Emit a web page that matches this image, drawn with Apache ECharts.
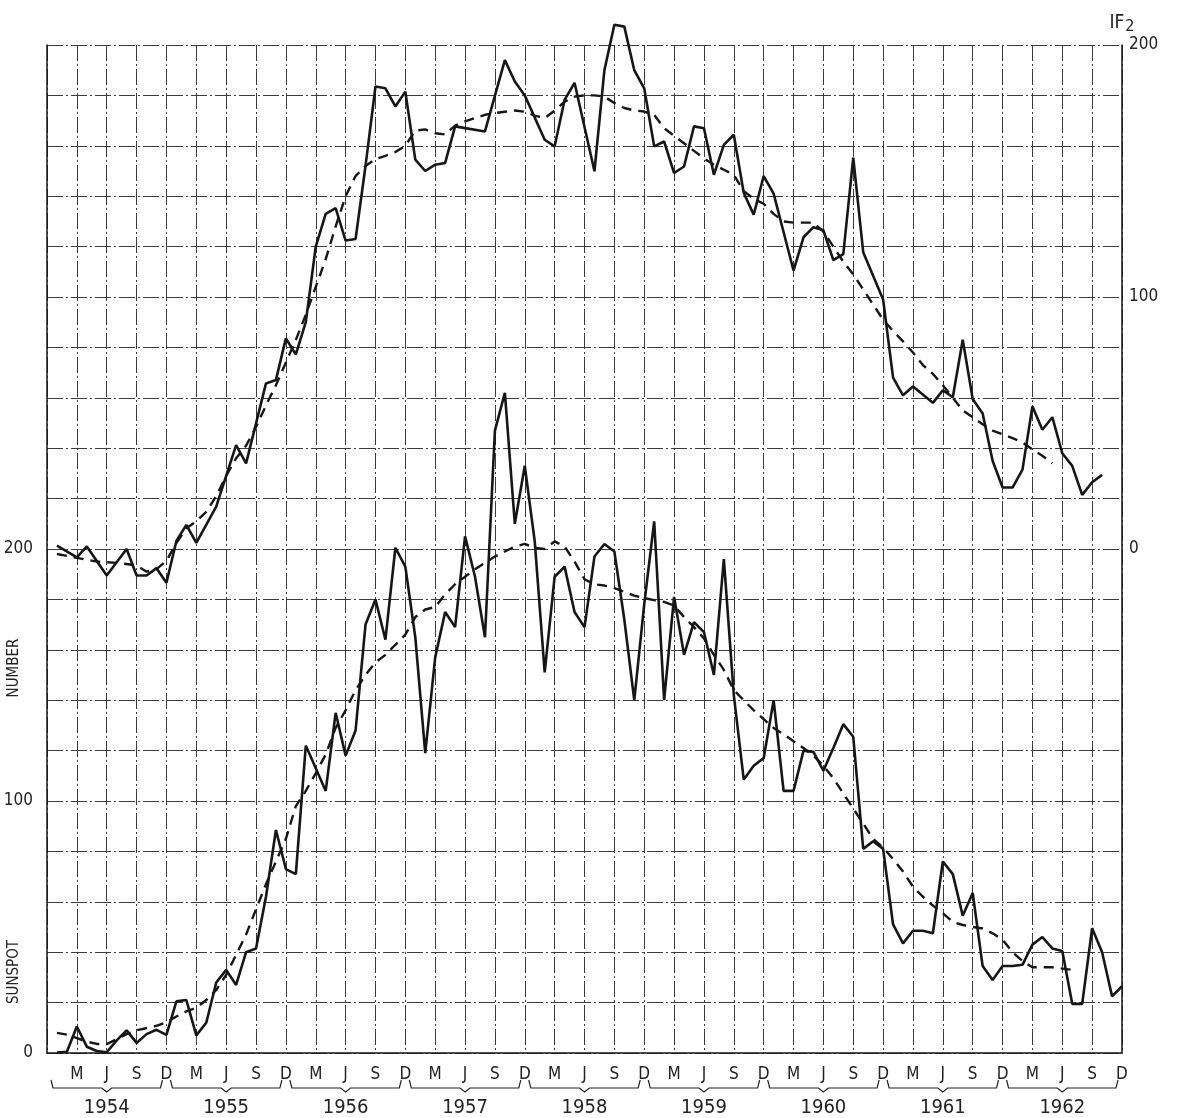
<!DOCTYPE html>
<html>
<head>
<meta charset="utf-8">
<script src="https://cdn.jsdelivr.net/npm/echarts@6/dist/echarts.min.js"></script>
<style>
html, body { margin: 0; background: #fff; }
#chart { width: 1184px; height: 1118px; }
</style>
</head>
<body>
<div id="chart"></div>
<script>
// months are counted from Jan 1954 (= 0)
var years = [1954, 1955, 1956, 1957, 1958, 1959, 1960, 1961, 1962];
var quarterLetters = { 2: 'M', 5: 'J', 8: 'S', 11: 'D' };

// monthly sunspot number, Jan 1954 .. Dec 1962
var sunspot = [
    0.2, 0.5, 10.5, 2.5, 0.8, 0.3, 5, 9, 4, 7.5, 9.2, 7.2,
    20.5, 21, 7, 12, 28, 33, 27, 40, 41.5, 62, 88.5, 73,
    71, 122, 113, 104, 135, 118, 128, 170, 180, 164, 200.5, 193,
    165, 119, 157, 175, 169, 205, 189, 165, 247, 262, 210, 233,
    203, 151, 189, 193, 175, 169, 197, 202, 199, 172, 140, 178,
    211, 140, 181, 158, 171, 167, 150, 196, 142, 108.5, 114, 117,
    140, 104, 104, 120, 119.5, 112, 121, 130.5, 125.5, 81, 84, 81,
    51, 43.5, 48.5, 48.5, 47.5, 76, 71, 54.5, 63.5, 34.5, 29, 34.5,
    34.5, 35, 43, 46, 41.5, 40.5, 19.5, 19.5, 49.5, 40, 22.5, 26.5
];

// smoothed sunspot number (dashed)
var sunspotSmoothMonths = [0, 1, 3, 4, 5, 6, 7, 8, 10, 11, 12, 13, 14, 15, 16, 17, 18, 19, 20, 21, 22, 23, 24, 25, 26, 27, 28, 29, 30,
    31, 32, 33, 34, 35, 36, 37, 38, 39, 40, 41, 42, 43, 44, 45, 46, 47, 48, 49, 50, 51, 52, 53, 54, 55, 56, 57, 58, 59, 60,
    61, 62, 63, 64, 65, 66, 67, 68, 69, 70, 71, 72, 73, 74, 75, 76, 77, 78, 79, 80, 81, 82, 83, 84, 85, 86, 87, 88, 89, 90,
    91, 92, 93, 94, 95, 96, 97, 98, 99, 100, 101, 102];
var sunspotSmooth = [8, 7.3, 4.5, 3.6, 3.5, 5.5, 7.5, 9, 10.8, 12.2, 14.5, 16.5, 18, 21, 25, 31, 39, 47, 57, 67, 76, 85, 98, 104, 111, 118.5, 129, 136, 144,
    150, 155, 158, 162, 166, 173, 176, 177, 182, 186, 189, 192, 194.5, 197, 199, 201, 202, 200.5, 200, 203, 201, 195, 188, 186, 185.5, 184.5, 183, 181.5, 180.5, 179.7,
    179, 177.5, 173, 169, 164.5, 158, 152, 144, 140, 136, 132.5, 129, 126.5, 123.7, 121, 118, 114, 109, 103, 97, 91, 85, 81.5, 77, 72, 66, 62, 58.5, 55.5, 52,
    50.8, 50, 49.4, 47.5, 45, 40, 36.5, 34, 34, 34, 33.5, 33];

// IF2 index (solid), read at its corners
var if2Months = [0, 2, 3, 5, 7, 8, 9, 10, 11, 12, 13, 14, 16, 18, 19, 21, 22, 23, 24, 25, 26, 27, 28, 29, 30, 31, 32, 33, 34, 35,
    36, 37, 38, 39, 40, 43, 45, 46, 47, 49, 50, 51, 52, 54, 55, 56, 57, 58, 59, 60, 61, 62, 63, 64, 65, 66, 67, 68, 69, 70, 71,
    72, 74, 75, 76, 77, 78, 79, 80, 81, 83, 84, 85, 86, 88, 89, 90, 91, 92, 93, 94, 95, 96, 97, 98, 99, 100, 101, 102, 103, 104, 105];
var if2 = [1.3, -3.3, 1, -10.5, 0, -10.5, -10.5, -7.6, -13.4, 3.2, 9.6, 2.4, 16.8, 41.2, 34, 65.7, 67.1, 83.6, 77.2, 90, 120, 133, 135.3, 122.4, 123, 152, 183.5, 182.8, 175.6, 181.5,
    154.5, 150, 152.5, 153.2, 167.7, 165.7, 194, 185.5, 180, 162.4, 159.8, 178.2, 185, 149.9, 190, 208, 207.3, 190, 182.8, 159.8, 161.7, 149.2, 151.8, 167.7, 167, 148.5, 160.4, 164.4, 141.3, 132.7, 148,
    141, 110.5, 123.7, 127.7, 126.5, 114.6, 117, 155.3, 117.8, 99, 68, 61, 64.5, 58, 63, 60.2, 83, 59.5, 53.8, 35, 24.4, 24.4, 31.5, 56.6, 47.3, 52.3, 38, 33, 21.5, 26.5, 29.4];

// smoothed IF2 (dashed)
var if2SmoothMonths = [0, 2, 4, 6, 8, 9, 10, 11, 12, 13, 14, 15, 16, 17, 18, 19, 20, 21, 22, 23, 24, 25, 26, 27, 28, 29, 30,
    31, 32, 33, 34, 35, 36, 37, 38, 39, 40, 41, 42, 43, 44, 45, 46, 47, 48, 49, 50, 51, 52, 53, 54, 55, 56, 57, 58, 59, 60,
    61, 62, 63, 64, 65, 66, 67, 68, 69, 70, 71, 72, 73, 74, 75, 76, 77, 78, 79, 80, 81, 82, 83, 84, 85, 86, 87, 88, 89, 90,
    91, 92, 93, 94, 95, 96, 97, 98, 99, 100];
var if2Smooth = [-2, -3.5, -5, -5.5, -6.5, -9, -8, -4.7, 2.4, 8.2, 11, 14.7, 21, 29, 36, 41, 48.4, 57, 65, 74, 83, 93, 104, 115, 128, 140, 148,
    152, 154.7, 156, 157.5, 160, 166, 166.5, 165, 164.5, 168, 169.7, 171, 172.3, 173, 173.5, 174, 173.5, 172, 171, 174, 177.5, 179.5, 180, 180, 179.5, 177, 175, 174, 173.6, 172.3,
    167, 164, 161, 158, 155, 152.5, 150.5, 148.5, 142, 139, 137, 133, 130, 129.5, 129.5, 129.5, 126, 120, 114, 109, 103, 97, 91, 86.5, 82.4, 78, 73, 69.5, 65, 60, 55,
    52.3, 49.5, 47, 45.5, 44, 42.3, 39.5, 37, 34, 31];

function pairs(xs, ys) {
    var out = [];
    for (var i = 0; i < xs.length; i++) {
        out.push([xs[i], ys[i]]);
    }
    return out;
}

var sunspotData = [];
for (var i = 0; i < sunspot.length; i++) {
    sunspotData.push([i, sunspot[i]]);
}

var font = '"DejaVu Sans Condensed", "DejaVu Sans", sans-serif';
var ink = '#161616';
var gridStyle = { color: '#3c3c3c', width: 1, type: [16, 3, 2, 3] };

var myChart = echarts.init(document.getElementById('chart'));
var option = {
    animation: false,
    backgroundColor: '#fff',
    grid: {
        left: 47,
        right: 62,
        top: 45,
        bottom: 65
    },
    xAxis: {
        type: 'value',
        min: -1,
        max: 107,
        interval: 3,
        axisLine: { onZero: false, lineStyle: { color: ink, width: 1.5 } },
        axisTick: { show: false },
        splitLine: { show: true, lineStyle: gridStyle },
        axisLabel: {
            margin: 13,
            fontSize: 17,
            color: '#222',
            fontFamily: font,
            showMinLabel: false,
            formatter: function (v) {
                if (v < 0) return '';
                return quarterLetters[((v % 12) + 12) % 12] || '';
            }
        }
    },
    yAxis: [
        {
            type: 'value',
            position: 'left',
            min: 0,
            max: 400,
            interval: 20,
            axisLine: { show: true, onZero: false, lineStyle: { color: ink, width: 1.5 } },
            axisTick: { show: false },
            splitLine: { show: true, lineStyle: gridStyle },
            axisLabel: {
                margin: 14,
                fontSize: 17,
                color: '#222',
                fontFamily: font,
                formatter: function (v) {
                    return (v % 100 === 0 && v <= 200) ? String(v) : '';
                }
            }
        },
        {
            type: 'value',
            position: 'right',
            min: -200,
            max: 200,
            interval: 20,
            name: '{a|IF}{b|2}',
            nameLocation: 'end',
            nameGap: 10,
            nameTextStyle: {
                rich: {
                    a: { fontSize: 19, fontFamily: font, color: '#222' },
                    b: { fontSize: 16, fontFamily: font, color: '#222', padding: [8, 0, 0, 1] }
                }
            },
            axisLine: { show: true, onZero: false, lineStyle: { color: ink, width: 1.5 } },
            axisTick: { show: false },
            splitLine: { show: false },
            axisLabel: {
                margin: 7,
                fontSize: 17,
                color: '#222',
                fontFamily: font,
                formatter: function (v) {
                    return (v % 100 === 0 && v >= 0) ? String(v) : '';
                }
            }
        }
    ],
    graphic: [
        {
            type: 'text',
            x: 14, y: 668, rotation: Math.PI / 2,
            style: { text: 'NUMBER', fontSize: 15, fontFamily: font, fill: '#222', align: 'center', verticalAlign: 'middle' }
        },
        {
            type: 'text',
            x: 14, y: 972, rotation: Math.PI / 2,
            style: { text: 'SUNSPOT', fontSize: 15, fontFamily: font, fill: '#222', align: 'center', verticalAlign: 'middle' }
        }
    ],
    series: [
        {
            name: 'Sunspot number',
            type: 'line',
            yAxisIndex: 0,
            data: sunspotData,
            showSymbol: false,
            clip: false,
            lineStyle: { color: ink, width: 2.6 }
        },
        {
            name: 'Sunspot smoothed',
            type: 'line',
            yAxisIndex: 0,
            data: pairs(sunspotSmoothMonths, sunspotSmooth),
            showSymbol: false,
            clip: false,
            lineStyle: { color: ink, width: 2.4, type: [10, 7] }
        },
        {
            name: 'IF2',
            type: 'line',
            yAxisIndex: 1,
            data: pairs(if2Months, if2),
            showSymbol: false,
            clip: false,
            lineStyle: { color: ink, width: 2.6 }
        },
        {
            name: 'IF2 smoothed',
            type: 'line',
            yAxisIndex: 1,
            data: pairs(if2SmoothMonths, if2Smooth),
            showSymbol: false,
            clip: false,
            lineStyle: { color: ink, width: 2.4, type: [10, 7] }
        },
        {
            // year braces under the month letters
            name: 'years',
            type: 'custom',
            yAxisIndex: 0,
            silent: true,
            clip: false,
            data: years.map(function (y, i) { return [12 * i - 1, 12 * i + 11, y]; }),
            encode: { x: [0, 1] },
            renderItem: function (params, api) {
                var a = api.coord([api.value(0), 0]);
                var b = api.coord([api.value(1), 0]);
                var x0 = a[0] + 4, x1 = b[0] - 4, xm = (a[0] + b[0]) / 2, y = a[1] + 35;
                return {
                    type: 'group',
                    children: [
                        {
                            type: 'polyline',
                            shape: { points: [[x0, y - 8], [x0 + 2, y], [xm - 5, y], [xm, y + 4], [xm + 5, y], [x1 - 2, y], [x1, y - 8]] },
                            style: { stroke: '#222', lineWidth: 1.2, fill: null }
                        },
                        {
                            type: 'text',
                            style: {
                                text: String(api.value(2)), x: xm, y: y + 20,
                                align: 'center', verticalAlign: 'middle',
                                fontSize: 20, fontFamily: font, fill: '#222'
                            }
                        }
                    ]
                };
            }
        }
    ]
};
myChart.setOption(option);
</script>
</body>
</html>
